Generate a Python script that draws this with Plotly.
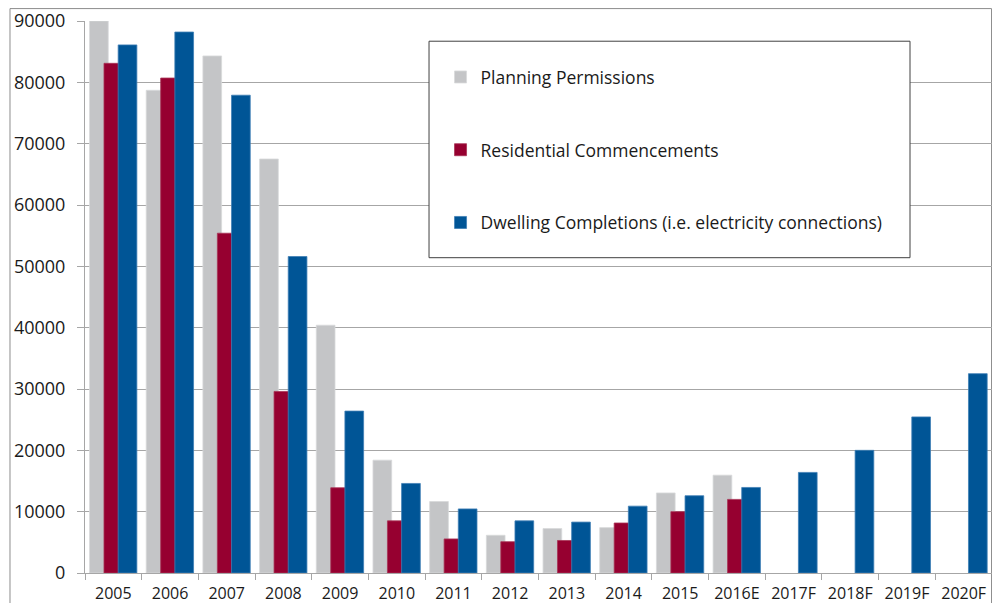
import plotly.graph_objects as go

categories = ['2005', '2006', '2007', '2008', '2009', '2010', '2011', '2012',
              '2013', '2014', '2015', '2016E', '2017F', '2018F', '2019F', '2020F']
planning_permissions = [90000, 78700, 84300, 67500, 40400, 18400, 11650, 6150,
                        7250, 7400, 13050, 15950, None, None, None, None]
residential_commencements = [83100, 80700, 55400, 29600, 13900, 8500, 5550, 5100,
                             5300, 8150, 10000, 12000, None, None, None, None]
dwelling_completions = [86100, 88200, 77900, 51600, 26400, 14600, 10450, 8500,
                        8300, 10900, 12600, 13950, 16400, 20000, 25450, 32500]
y_ticks = [0, 10000, 20000, 30000, 40000, 50000, 60000, 70000, 80000, 90000]

FONT = "Open Sans"
GRID = "#A6A6A6"

fig = go.Figure()
series = [
    ("Planning Permissions", planning_permissions, "#C4C5C7", "#D8D9DB", -0.42),
    ("Residential Commencements", residential_commencements, "#960030", "#A83356", -0.165),
    ("Dwelling Completions (i.e. electricity connections)", dwelling_completions, "#005596", "#3F7FB5", 0.085),
]
for i, (name, vals, col, edge, off) in enumerate(series):
    fig.add_trace(go.Bar(
        x=categories, y=vals, name=name,
        marker=dict(color=col, line=dict(color=edge, width=0.8)),
        width=0.33, offset=off, legendgroup=f"g{i}",
    ))

# page body has an 8px default margin, so the figure is placed at (8, 8)
fig.update_layout(
    width=984, height=595,
    margin=dict(l=77, r=0, t=13, b=30),
    paper_bgcolor="white", plot_bgcolor="white",
    barmode="overlay",
    font=dict(family=FONT, size=16, color="#1A1A1A"),
    showlegend=True,
    legend=dict(
        x=0.392, y=0.931, xanchor="left", yanchor="top",
        bgcolor="rgba(0,0,0,0)", borderwidth=0,
        font=dict(family=FONT, size=17.5, color="#1A1A1A"),
        traceorder="grouped", tracegroupgap=47,
        itemclick=False, itemdoubleclick=False,
    ),
    xaxis=dict(
        type="category", categoryorder="array", categoryarray=categories,
        range=[-0.5, 15.5], automargin=False,
        showline=True, linecolor=GRID, linewidth=1,
        ticks="outside", tickson="boundaries", ticklen=6, tickcolor=GRID,
        showgrid=False, tickfont=dict(size=16), ticklabelstandoff=6,
    ),
    yaxis=dict(
        range=[0, 90000], tickvals=y_ticks, tickformat="d", automargin=False,
        showline=True, linecolor=GRID, linewidth=1,
        ticks="outside", ticklen=7, tickcolor=GRID,
        showgrid=True, gridcolor=GRID, gridwidth=1,
        ticklabelstandoff=8, tickfont=dict(size=18),
        zeroline=False,
    ),
    shapes=[
        dict(type="rect", xref="paper", yref="paper",
             x0=-0.0827, x1=0.9995, y0=-0.2, y1=1.0225,
             line=dict(color="#8C8C8C", width=1), fillcolor="rgba(0,0,0,0)",
             layer="below"),
        dict(type="rect", xref="paper", yref="paper",
             x0=0.3793, x1=0.9096, y0=0.5712, y1=0.9634,
             line=dict(color="#404040", width=1), fillcolor="white",
             layer="above"),
    ],
)

fig.write_html("out.html")
